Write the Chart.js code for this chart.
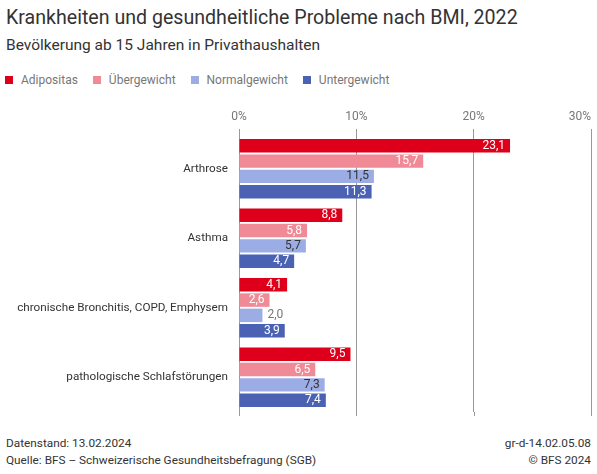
<!DOCTYPE html>
<html lang="de">
<head>
    <meta charset="UTF-8">
    <title>Krankheiten und gesundheitliche Probleme nach BMI, 2022</title>
    <script src="https://cdn.jsdelivr.net/npm/chart.js@4"></script>
    <style>
        body { margin: 0; width: 597px; height: 474px; background: #fff; font-family: Roboto, sans-serif; color: #333; position: relative; overflow: hidden; }
        #titel { position: absolute; left: 6px; top: 6px; font-size: 19.6px; line-height: 24px; white-space: nowrap; }
        #untertitel { position: absolute; left: 6px; top: 35px; font-size: 15.5px; line-height: 20px; white-space: nowrap; }
        #legende { position: absolute; left: 5px; top: 71px; display: flex; font-size: 12px; line-height: 18px; color: #777; }
        #legende .eintrag { display: flex; align-items: center; margin-right: 15px; }
        #legende .box { width: 8px; height: 8px; margin-right: 8px; }
        #grafik { position: absolute; left: 0; top: 100px; width: 597px; height: 330px; }
        .fuss { position: absolute; font-size: 11.8px; line-height: 17px; white-space: nowrap; }
        #fussLinks { left: 6px; top: 435px; }
        #fussRechts { right: 6px; top: 435px; text-align: right; }
    </style>
</head>
<body>
    <div id="titel">Krankheiten und gesundheitliche Probleme nach BMI, 2022</div>
    <div id="untertitel">Bevölkerung ab 15 Jahren in Privathaushalten</div>
    <div id="legende"></div>
    <div id="grafik"><canvas id="graficoBMI"></canvas></div>
    <div class="fuss" id="fussLinks">Datenstand: 13.02.2024<br>Quelle: BFS – Schweizerische Gesundheitsbefragung (SGB)</div>
    <div class="fuss" id="fussRechts">gr-d-14.02.05.08<br>© BFS 2024</div>

    <script>
        const kategorien = ['Arthrose', 'Asthma', 'chronische Bronchitis, COPD, Emphysem', 'pathologische Schlafstörungen'];
        const adipositas = [23.1, 8.8, 4.1, 9.5];
        const uebergewicht = [15.7, 5.8, 2.6, 6.5];
        const normalgewicht = [11.5, 5.7, 2.0, 7.3];
        const untergewicht = [11.3, 4.7, 3.9, 7.4];
        const achsenWerte = [0, 10, 20, 30];

        const serien = [
            { label: 'Adipositas', data: adipositas, farbe: '#de001b', text: '#fff' },
            { label: 'Übergewicht', data: uebergewicht, farbe: '#f08a97', text: '#fff' },
            { label: 'Normalgewicht', data: normalgewicht, farbe: '#9cade6', text: '#333' },
            { label: 'Untergewicht', data: untergewicht, farbe: '#4b62b4', text: '#fff' }
        ];

        // Legende als HTML
        const legende = document.getElementById('legende');
        serien.forEach(s => {
            const e = document.createElement('div');
            e.className = 'eintrag';
            e.innerHTML = '<span class="box" style="background:' + s.farbe + '"></span>' + s.label;
            legende.appendChild(e);
        });

        const fmt = v => v.toFixed(1).replace('.', ',');

        // Werte an den Balken + Achsenbeschriftung oben
        const beschriftung = {
            id: 'beschriftung',
            afterDatasetsDraw(chart) {
                const ctx = chart.ctx;
                ctx.save();
                ctx.font = '12px Roboto';
                ctx.textBaseline = 'middle';
                chart.data.datasets.forEach((ds, i) => {
                    chart.getDatasetMeta(i).data.forEach((bar, j) => {
                        const t = fmt(ds.data[j]);
                        const w = ctx.measureText(t).width;
                        if (bar.x - bar.base >= w + 9) {
                            ctx.fillStyle = serien[i].text;
                            ctx.textAlign = 'right';
                            ctx.fillText(t, bar.x - 5, bar.y);
                        } else {
                            ctx.fillStyle = '#777';
                            ctx.textAlign = 'left';
                            ctx.fillText(t, bar.x + 5, bar.y);
                        }
                    });
                });

                const x = chart.scales.x;
                const area = chart.chartArea;
                ctx.strokeStyle = '#999';
                ctx.lineWidth = 1;
                ctx.fillStyle = '#777';
                achsenWerte.forEach(v => {
                    const px = x.getPixelForValue(v);
                    const t = v + '%';
                    const w = ctx.measureText(t).width;
                    ctx.textAlign = 'center';
                    let tx = px;
                    if (tx + w / 2 > chart.width - 6) tx = px - w / 2;
                    ctx.fillText(t, tx, area.top - 17);
                    ctx.beginPath();
                    ctx.moveTo(Math.round(px) + 0.5, area.bottom);
                    ctx.lineTo(Math.round(px) + 0.5, area.bottom + 4);
                    ctx.stroke();
                });
                ctx.restore();
            }
        };

        new Chart(document.getElementById('graficoBMI'), {
            type: 'bar',
            data: {
                labels: kategorien,
                datasets: serien.map(s => ({
                    label: s.label,
                    data: s.data,
                    backgroundColor: s.farbe,
                    barPercentage: 0.88,
                    categoryPercentage: 0.88
                }))
            },
            options: {
                indexAxis: 'y',
                responsive: true,
                maintainAspectRatio: false,
                animation: false,
                layout: { padding: { top: 29, bottom: 14, left: 0, right: 6 } },
                plugins: {
                    legend: { display: false },
                    tooltip: { enabled: false }
                },
                scales: {
                    x: {
                        position: 'top',
                        min: 0,
                        max: 30,
                        ticks: { stepSize: 10, display: false },
                        grid: { color: '#999', drawTicks: true, tickLength: 5 },
                        border: { display: false }
                    },
                    y: {
                        grid: { display: false, drawTicks: false },
                        border: { display: false },
                        ticks: { color: '#333', font: { family: 'Roboto', size: 11.7 }, padding: 11 },
                        afterFit: s => { s.width = 239; }
                    }
                }
            },
            plugins: [beschriftung]
        });
    </script>
</body>
</html>
